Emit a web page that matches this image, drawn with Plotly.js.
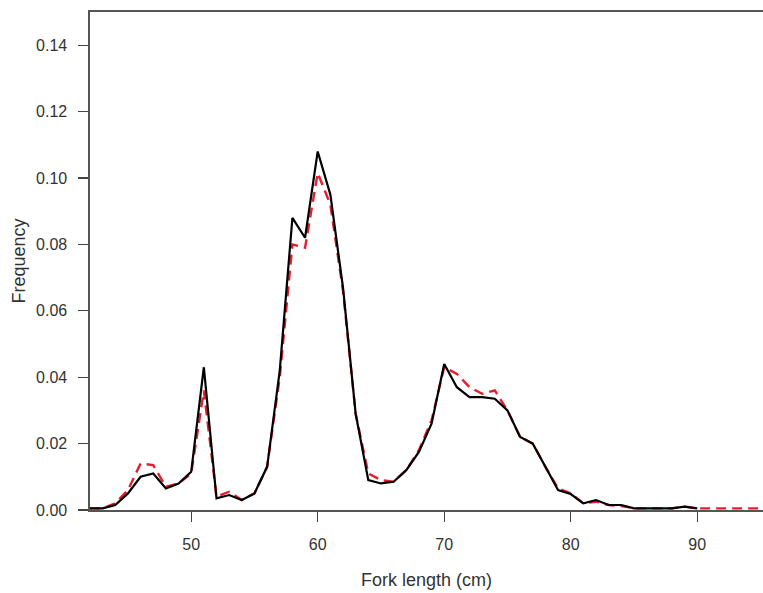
<!DOCTYPE html>
<html>
<head>
<meta charset="utf-8">
<script src="https://cdn.plot.ly/plotly-3.0.1.min.js"></script>
<style>html,body{margin:0;padding:0;background:#fff;}#chart{width:763px;height:593px;}</style>
</head>
<body>
<div id="chart"></div>
<script>
// Fork length (cm), observed (black solid) and fitted (red dashed) frequencies
const lengthObserved = [42,43,44,45,46,47,48,49,50,51,52,53,54,55,56,57,58,59,60,61,62,63,64,65,66,67,68,69,70,71,72,73,74,75,76,77,78,79,80,81,82,83,84,85,86,87,88,89,90];
const freqObserved = [0.0005,0.0005,0.0015,0.005,0.010,0.011,0.0065,0.008,0.0115,0.043,0.0035,0.0045,0.003,0.005,0.013,0.042,0.088,0.082,0.108,0.095,0.067,0.029,0.009,0.008,0.0085,0.012,0.0175,0.026,0.044,0.037,0.034,0.034,0.0335,0.030,0.022,0.020,0.013,0.006,0.0048,0.002,0.003,0.0015,0.0015,0.0005,0.0005,0.0005,0.0005,0.001,0.0005];

const lengthFitted = [42,43,44,45,46,47,48,49,50,51,52,53,54,55,56,57,58,59,60,61,62,63,64,65,66,67,68,69,70,71,72,73,74,75,76,77,78,79,80,81,82,83,84,85,86,87,88,89,90,91,92,93,94,95,96];
const freqFitted = [0.0005,0.0005,0.002,0.006,0.014,0.0135,0.007,0.008,0.011,0.036,0.004,0.0055,0.003,0.005,0.013,0.040,0.080,0.079,0.1015,0.092,0.066,0.029,0.011,0.009,0.0085,0.012,0.018,0.027,0.043,0.041,0.037,0.035,0.036,0.030,0.022,0.020,0.013,0.0065,0.005,0.002,0.0025,0.0015,0.0012,0.0005,0.0005,0.0005,0.0005,0.001,0.0005,0.0005,0.0005,0.0005,0.0005,0.0005,0.0005];

const xTicks = [50,60,70,80,90];
const yTicks = [0,0.02,0.04,0.06,0.08,0.10,0.12,0.14];
const yTickText = ["0.00","0.02","0.04","0.06","0.08","0.10","0.12","0.14"];

const traces = [
  {x: lengthFitted, y: freqFitted, type: 'scatter', mode: 'lines',
   line: {color: 'rgb(228,30,45)', width: 2.4, dash: '10px,6px'}, hoverinfo: 'skip'},
  {x: lengthObserved, y: freqObserved, type: 'scatter', mode: 'lines',
   line: {color: '#000000', width: 2.2}, hoverinfo: 'skip'}
];

const fam = 'Liberation Sans, Arial, sans-serif';
const axisFont = {family: fam, size: 16, color: '#333333'};
const titleFont = {family: fam, size: 18, color: '#333333'};
const layout = {
  width: 763, height: 593,
  margin: {l: 90, r: 0, t: 12, b: 83},
  paper_bgcolor: '#ffffff', plot_bgcolor: '#ffffff',
  showlegend: false,
  xaxis: {
    range: [42, 95.2], tickvals: xTicks, ticktext: xTicks.map(String),
    ticks: 'outside', ticklen: 10, tickwidth: 1.2, tickcolor: '#444',
    showline: true, linecolor: '#555', linewidth: 1.6, mirror: true,
    showgrid: false, zeroline: false, tickfont: axisFont, ticklabelstandoff: 9,
    title: {text: 'Fork length (cm)', font: titleFont, standoff: 21}
  },
  yaxis: {
    range: [0, 0.15], tickvals: yTicks, ticktext: yTickText,
    ticks: 'outside', ticklen: 10, tickwidth: 1.2, tickcolor: '#444',
    showline: true, linecolor: '#555', linewidth: 1.6, mirror: false,
    showgrid: false, zeroline: false, tickfont: axisFont, ticklabelstandoff: 8,
    title: {text: 'Frequency', font: titleFont, standoff: 6}
  }
};

Plotly.newPlot('chart', traces, layout, {displayModeBar: false, staticPlot: true});
</script>
</body>
</html>
